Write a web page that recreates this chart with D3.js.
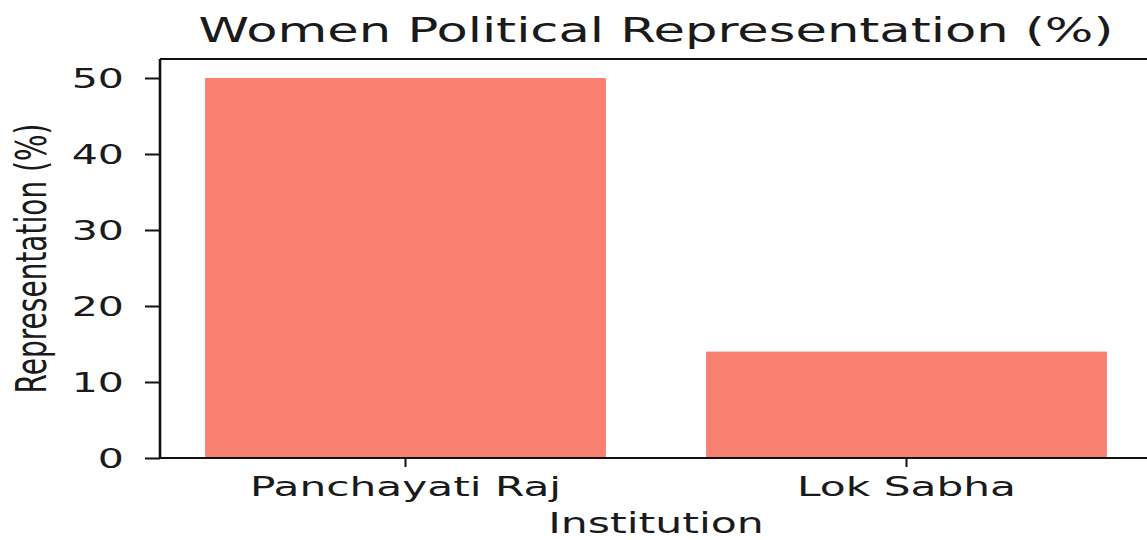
<!DOCTYPE html>
<html>
<head>
<meta charset="utf-8">
<script src="https://cdn.jsdelivr.net/npm/d3@7"></script>
<style>
  html, body { margin: 0; padding: 0; background: #fff; }
  svg { display: block; }
  text { font-family: "DejaVu Sans", sans-serif; fill: #1a1a1a; }
</style>
</head>
<body>
<svg id="chart" width="1147" height="540"></svg>
<script>
// ---- data ----
const categories = ["Panchayati Raj", "Lok Sabha"];
const values = [50, 14];
const yTicks = [0, 10, 20, 30, 40, 50];
const titleText = "Women Political Representation (%)";
const xLabelText = "Institution";
const yLabelText = "Representation (%)";

// ---- layout ----
const SX = 1.55;             // horizontal stretch of glyphs
const axL = 160, axR = 1152, axT = 59, axB = 458;
const svg = d3.select("#chart");

const x = d3.scaleBand().domain(categories).range([axL, axR])
  .paddingInner(0.2).paddingOuter(0.09);
const y = d3.scaleLinear().domain([0, 52.5]).range([axB, axT]);

// bars
svg.append("g").selectAll("rect").data(categories).join("rect")
  .attr("x", d => x(d))
  .attr("width", x.bandwidth())
  .attr("y", (d, i) => y(values[i]))
  .attr("height", (d, i) => axB - y(values[i]))
  .attr("fill", "#FA8072");

// spines
svg.append("line").attr("x1", axL).attr("x2", axR).attr("y1", axT).attr("y2", axT)
  .attr("stroke", "#111").attr("stroke-width", 2);
svg.append("line").attr("x1", axL).attr("x2", axL).attr("y1", axT).attr("y2", axB)
  .attr("stroke", "#111").attr("stroke-width", 2.6);

// y axis
const yAxis = svg.append("g").attr("transform", `translate(${axL},0)`)
  .call(d3.axisLeft(y).tickValues(yTicks).tickSize(15).tickPadding(0).tickFormat(d3.format("d")));
yAxis.select(".domain").remove();
yAxis.selectAll(".tick line").attr("stroke", "#111").attr("stroke-width", 2);
yAxis.selectAll(".tick text")
  .attr("x", null).attr("dy", null)
  .attr("font-size", 26.5).attr("fill", "#1a1a1a")
  .attr("text-anchor", "end").attr("dominant-baseline", "central")
  .attr("transform", `translate(-36,0) scale(${SX},1)`);

// x axis
const xAxis = svg.append("g").attr("transform", `translate(0,${axB})`)
  .call(d3.axisBottom(x).tickSize(9).tickPadding(0));
xAxis.select(".domain").remove();
xAxis.selectAll(".tick line").attr("stroke", "#111").attr("stroke-width", 2);
xAxis.selectAll(".tick text")
  .attr("y", null).attr("dy", null)
  .attr("font-size", 27.3).attr("fill", "#1a1a1a")
  .attr("text-anchor", "middle")
  .attr("transform", `translate(0,38) scale(${SX},1)`);
svg.append("line").attr("x1", axL).attr("x2", axR).attr("y1", axB).attr("y2", axB)
  .attr("stroke", "#111").attr("stroke-width", 2);

// title
svg.append("text")
  .attr("transform", `translate(${(axL + axR) / 2},42) scale(${SX},1)`)
  .attr("text-anchor", "middle").attr("font-size", 33)
  .text(titleText);

// x label
svg.append("text")
  .attr("transform", `translate(${(axL + axR) / 2},533) scale(${SX},1)`)
  .attr("text-anchor", "middle").attr("font-size", 27.5)
  .text(xLabelText);

// y label
svg.append("text")
  .attr("transform", `translate(46,${(axT + axB) / 2}) scale(${SX},1) rotate(-90)`)
  .attr("text-anchor", "middle").attr("font-size", 28)
  .text(yLabelText);
</script>
</body>
</html>
